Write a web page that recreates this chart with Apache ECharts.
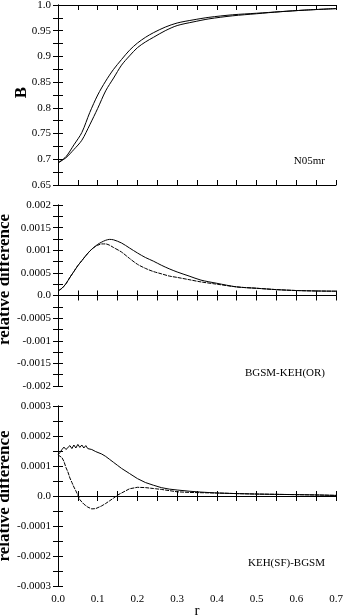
<!DOCTYPE html>
<html><head><meta charset="utf-8">
<script src="https://cdn.jsdelivr.net/npm/echarts@6/dist/echarts.min.js"></script>
<style>html,body{margin:0;padding:0;background:#fff}#c{width:345px;height:616px}</style>
</head><body><div id="c"></div>
<script>
// ---------- data ----------
const rTop = [0,0.02,0.04,0.06,0.08,0.10,0.12,0.14,0.16,0.18,0.20,0.22,0.24,0.27,0.30,0.34,0.38,0.44,0.50,0.56,0.62,0.70];
const bUpper = [0.693,0.705,0.728,0.752,0.791,0.825,0.852,0.875,0.894,0.912,0.926,0.937,0.946,0.957,0.965,0.971,0.976,0.981,0.984,0.987,0.990,0.993];
const bLower = [0.693,0.703,0.719,0.737,0.767,0.799,0.833,0.858,0.883,0.901,0.917,0.928,0.937,0.950,0.960,0.967,0.973,0.979,0.983,0.987,0.990,0.993];

const rMid = [0,0.01,0.02,0.03,0.04,0.05,0.06,0.07,0.08,0.09,0.10,0.11,0.12,0.13,0.14,0.16,0.18,0.20,0.22,0.24,0.26,0.28,0.30,0.33,0.36,0.40,0.45,0.50,0.55,0.60,0.65,0.70];
const dUpper = [0.00010,0.00016,0.00026,0.00040,0.00053,0.00066,0.00077,0.00088,0.00098,0.00106,0.00113,0.00118,0.00122,0.00124,0.00123,0.00116,0.00105,0.00094,0.00084,0.00076,0.00067,0.00059,0.00052,0.00043,0.00034,0.00027,0.00019,0.00016,0.00013,0.00011,0.00010,0.000095];
const dLower = [0.00010,0.00016,0.00026,0.00040,0.00053,0.00066,0.00077,0.00088,0.00098,0.00106,0.00111,0.00114,0.00114,0.00111,0.00106,0.00096,0.00082,0.00069,0.00060,0.00053,0.00048,0.00043,0.00040,0.00035,0.00030,0.00025,0.00019,0.00016,0.00013,0.00011,0.00010,0.000095];

const rBot = [0,0.005,0.01,0.015,0.02,0.025,0.03,0.035,0.04,0.045,0.05,0.055,0.06,0.065,0.07,0.075,0.08,0.085,0.09,0.095,0.10,0.11,0.12,0.13,0.14,0.15,0.16,0.18,0.20,0.22,0.24,0.26,0.28,0.30,0.33,0.36,0.40,0.45,0.50,0.55,0.60,0.65,0.70];
const sUpper = [0.000137,0.000145,0.000155,0.000163,0.000155,0.000160,0.000168,0.000158,0.000170,0.000160,0.000172,0.000162,0.000170,0.000160,0.000168,0.000158,0.000164,0.000155,0.000158,0.000148,0.000150,0.000140,0.000132,0.000122,0.000112,0.000102,0.000092,0.000075,0.000058,0.000045,0.000036,0.000028,0.000023,0.000020,0.000016,0.000013,0.000010,0.000008,0.0000065,0.0000055,0.0000045,0.0000035,0.000002];
const sLower = [0.000137,0.000135,0.000128,0.000115,0.000095,0.000080,0.000060,0.000045,0.000030,0.000017,0.000003,-0.000012,-0.000020,-0.000027,-0.000033,-0.000037,-0.000040,-0.000043,-0.000045,-0.000042,-0.000040,-0.000033,-0.000025,-0.000016,-0.000007,0.000003,0.000010,0.000024,0.000029,0.000028,0.000025,0.000022,0.000018,0.000014,0.000012,0.000011,0.000010,0.000008,0.0000065,0.0000055,0.0000045,0.0000035,0.000002];

const xTicks = ['0.0','0.1','0.2','0.3','0.4','0.5','0.6','0.7'];
const yTicks1 = ['0.65','0.7','0.75','0.8','0.85','0.9','0.95','1.0'];
const yTicks2 = ['-0.002','-0.0015','-0.001','-0.0005','0.0','0.0005','0.001','0.0015','0.002'];
const yTicks3 = ['-0.0003','-0.0002','-0.0001','0.0','0.0001','0.0002','0.0003'];
const panelLabels = ['N05mr','BGSM-KEH(OR)','KEH(SF)-BGSM'];

// ---------- chart ----------
const FONT = '"Liberation Serif", "DejaVu Serif", serif';
const grids = [
  {left:58, width:278, top:5, height:180, outerBoundsMode:'none', containLabel:false},
  {left:58, width:278, top:205, height:181, outerBoundsMode:'none', containLabel:false},
  {left:58, width:278, top:406, height:180, outerBoundsMode:'none', containLabel:false}
];
function fmt(labels, min, step){ return v => labels[Math.round((v-min)/step)] ?? ''; }
const tickStyle = {show:true, inside:true, length:5, lineStyle:{color:'#000', width:1}};
const minorStyle = {show:true, splitNumber:2, length:5, lineStyle:{color:'#000', width:1}};
const lineStyle = {show:true, lineStyle:{color:'#000', width:1}};

const xAxis = [], yAxis = [];
const yCfg = [
  {min:0.65, max:1.0, step:0.05, labels:yTicks1, name:'B', gap:28, pad:[0,0,0,5]},
  {min:-0.002, max:0.002, step:0.0005, labels:yTicks2, name:'relative difference', gap:45, pad:[0,0,0,32]},
  {min:-0.0003, max:0.0003, step:0.0001, labels:yTicks3, name:'relative difference', gap:45, pad:0}
];
for (let g=0; g<3; g++){
  ['bottom','top'].forEach(pos=>{
    xAxis.push({type:'value', gridIndex:g, position:pos, min:0, max:0.7, interval:0.1,
      axisLine:lineStyle, axisTick:tickStyle, minorTick:minorStyle, splitLine:{show:false},
      axisLabel:{show: (g===2 && pos==='bottom'), formatter: fmt(xTicks,0,0.1), color:'#000', fontFamily:FONT, fontSize:11, margin:8},
      name: (g===2 && pos==='bottom') ? 'r' : '', nameLocation:'middle', nameGap:18, nameMoveOverlap:false,
      nameTextStyle:{color:'#000', fontFamily:FONT, fontSize:15}
    });
  });
  const c = yCfg[g];
  ['left','right'].forEach(pos=>{
    yAxis.push({type:'value', gridIndex:g, position:pos, min:c.min, max:c.max, interval:c.step,
      axisLine:lineStyle, axisTick:tickStyle, minorTick:minorStyle, splitLine:{show:false},
      axisLabel:{show: pos==='left', formatter: fmt(c.labels,c.min,c.step), color:'#000', fontFamily:FONT, fontSize:11, margin:7},
      name: pos==='left' ? c.name : '', nameLocation:'middle', nameGap:c.gap, nameRotate:90, nameMoveOverlap:false,
      nameTextStyle:{color:'#000', fontFamily:FONT, fontSize:17, fontWeight:'bold', padding:c.pad}
    });
  });
}
function zip(xs, ys){ return xs.map((x,i)=>[x, ys[i]]); }
function ser(g, xs, ys, dashed, smooth){
  return {type:'line', xAxisIndex:g*2, yAxisIndex:g*2, data:zip(xs,ys), showSymbol:false, smooth:smooth,
    lineStyle:{color:'#000', width:1, type: dashed ? [4,1] : 'solid'}, animation:false, silent:true};
}
const series = [
  ser(0, rTop, bUpper, false, 0.3),
  ser(0, rTop, bLower, false, 0.3),
  ser(1, rMid, dUpper, false, 0.3),
  ser(1, rMid, dLower, true, 0.3),
  ser(2, rBot, sUpper, false, false),
  ser(2, rBot, sLower, true, false)
];
const labelY = [163, 375, 565];
const graphic = panelLabels.map((t,i)=>({type:'text', right:20, top:labelY[i]-7,
  style:{text:t, font:'11px "Liberation Serif"', fill:'#000'}}));

const chart = echarts.init(document.getElementById('c'), null, {renderer:'canvas'});
chart.setOption({animation:false, grid:grids, xAxis, yAxis, series, graphic});
</script></body></html>
